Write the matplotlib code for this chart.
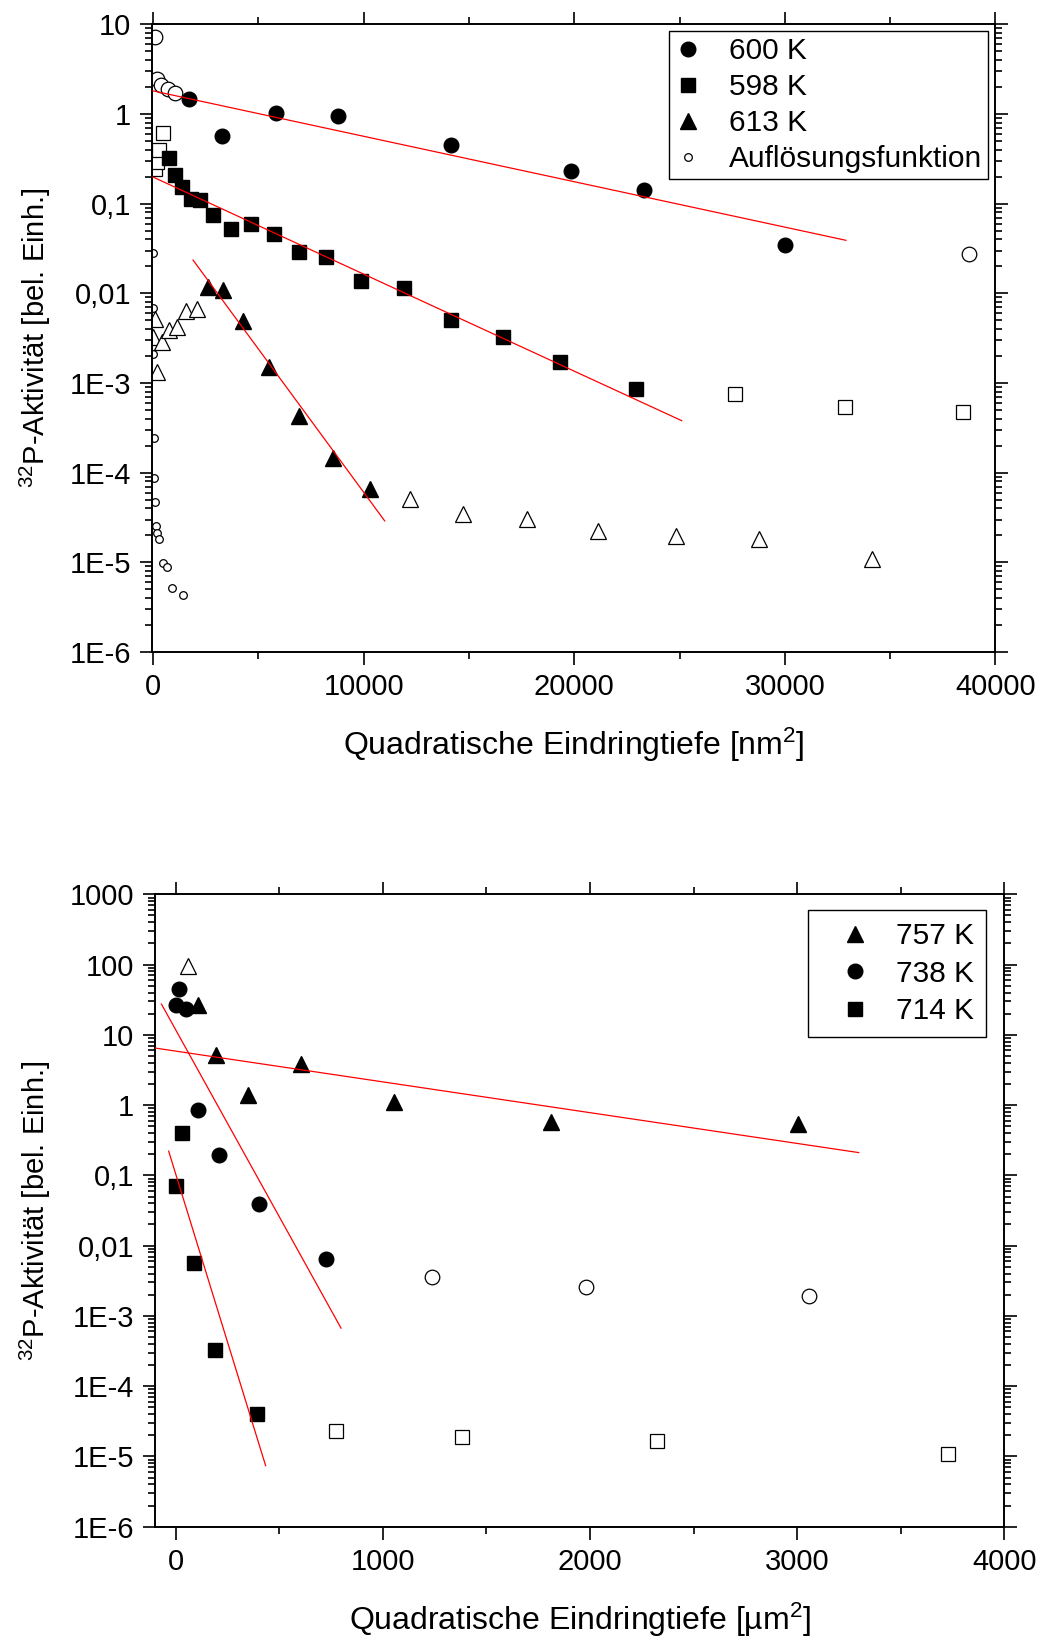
import matplotlib
matplotlib.use("Agg")
import matplotlib.pyplot as plt
from matplotlib.ticker import FixedLocator, FixedFormatter, LogLocator, NullFormatter, MultipleLocator

plt.rcParams['font.family'] = ['Liberation Sans', 'DejaVu Sans']
plt.rcParams['mathtext.fontset'] = 'custom'
plt.rcParams['mathtext.rm'] = 'Liberation Sans'
plt.rcParams['mathtext.it'] = 'Liberation Sans'
plt.rcParams['mathtext.bf'] = 'Liberation Sans'

# ---------------- top panel data (x in nm^2) ----------------
x600 = [1710, 3297, 5826, 8800, 14155, 19856, 23327, 30020]
y600 = [1.46, 0.57, 1.03, 0.95, 0.45, 0.23, 0.142, 0.0343]
x600_open = [95, 175, 380, 697, 1045, 38745]
y600_open = [7.27, 2.43, 2.1, 1.90, 1.70, 0.0277]

x598 = [760, 1045, 1393, 1804, 2232, 2849, 3704, 4653, 5730, 6918, 8199, 9862,
        11924, 14155, 16634, 19311, 22930]
y598 = [0.325, 0.208, 0.154, 0.112, 0.109, 0.0745, 0.0515, 0.0586, 0.0457, 0.0288,
        0.0253, 0.01377, 0.0114, 0.00498, 0.00324, 0.0017, 0.00085]
x598_open = [95, 175, 300, 490, 27640, 32846, 38448]
y598_open = [0.243, 0.293, 0.395, 0.62, 7.6e-4, 5.37e-4, 4.7e-4]

x613 = [2627, 3324, 4259, 5508, 6933, 8533, 10304]
y613 = [0.01178, 0.011, 0.00489, 0.00151, 4.33e-4, 1.47e-4, 6.6e-5]
x613_open = [15, 95, 175, 413, 774, 1125, 1567, 2075,
             12221, 14700, 17775, 21146, 24815, 28781, 34135]
y613_open = [0.00326, 0.00523, 0.00133, 0.00287, 0.00389, 0.00422, 0.0063, 0.00676,
             5.05e-5, 3.47e-5, 3.05e-5, 2.21e-5, 1.99e-5, 1.84e-5, 1.10e-5]

x_res = [15, 15, 15, 47, 47, 95, 128, 176, 285, 460, 679, 888, 1439]
y_res = [0.0278, 0.00687, 0.00209, 2.46e-4, 8.8e-5, 4.7e-5, 2.52e-5, 2.12e-5,
         1.83e-5, 9.8e-6, 8.8e-6, 5.2e-6, 4.27e-6]

fit600_x = [0, 32900]
fit600_y = [1.81, 0.039]
fit598_x = [0, 25100]
fit598_y = [0.198, 3.8e-4]
fit613_x = [1900, 11000]
fit613_y = [0.0235, 2.9e-5]

top_labels = ['600 K', '598 K', '613 K', 'Auflösungsfunktion']
top_yticks = [1e-6, 1e-5, 1e-4, 1e-3, 1e-2, 1e-1, 1, 10]
top_yticklabels = ['1E-6', '1E-5', '1E-4', '1E-3', '0,01', '0,1', '1', '10']
top_xticks = [0, 10000, 20000, 30000, 40000]
top_xticklabels = ['0', '10000', '20000', '30000', '40000']

# ---------------- bottom panel data (x in um^2) ----------------
x757 = [108, 194, 347, 605, 1055, 1811, 3004]
y757 = [26.2, 5.1, 1.41, 3.85, 1.11, 0.571, 0.533]
x757_open = [60]
y757_open = [95.9]

x738 = [15, 3, 52, 108, 210, 401, 724]
y738 = [45.2, 26.8, 23.5, 0.843, 0.192, 0.0386, 0.00653]
x738_open = [1237, 1983, 3059]
y738_open = [0.00363, 0.00256, 0.00195]

x714 = [31, 3, 87, 189, 393]
y714 = [0.403, 0.0703, 0.00561, 3.26e-4, 4.02e-5]
x714_open = [774, 1384, 2324, 3729]
y714_open = [2.28e-5, 1.89e-5, 1.66e-5, 1.1e-5]

fit757_x = [-100, 3297]
fit757_y = [6.49, 0.211]
fit738_x = [-69, 798]
fit738_y = [27.4, 6.7e-4]
fit714_x = [-34, 434]
fit714_y = [0.221, 7.4e-6]

bot_labels = ['757 K', '738 K', '714 K']
bot_yticks = [1e-6, 1e-5, 1e-4, 1e-3, 1e-2, 1e-1, 1, 10, 100, 1000]
bot_yticklabels = ['1E-6', '1E-5', '1E-4', '1E-3', '0,01', '0,1', '1', '10', '100', '1000']
bot_xticks = [0, 1000, 2000, 3000, 4000]
bot_xticklabels = ['0', '1000', '2000', '3000', '4000']

FS_TICK = 21
FS_LEG = 21.5
FS_XL = 23
FS_YL = 21
MS = 10.5
fig = plt.figure(figsize=(10.4, 16.38), dpi=100)
ax1 = fig.add_axes([0.1459, 0.60195, 0.8113, 0.38322])
ax2 = fig.add_axes([0.14904, 0.06795, 0.81663, 0.38608])


def style(ax, xt, xtl, yt, ytl, xminor):
    ax.set_yscale('log')
    ax.xaxis.set_major_locator(FixedLocator(xt))
    ax.xaxis.set_major_formatter(FixedFormatter(xtl))
    ax.xaxis.set_minor_locator(MultipleLocator(xminor))
    ax.yaxis.set_major_locator(FixedLocator(yt))
    ax.yaxis.set_major_formatter(FixedFormatter(ytl))
    ax.yaxis.set_minor_locator(LogLocator(base=10, subs=range(2, 10), numticks=50))
    ax.yaxis.set_minor_formatter(NullFormatter())
    ax.tick_params(which='both', direction='out', top=True, right=True, width=1.2,
                   labelsize=FS_TICK, colors='black')
    ax.tick_params(which='major', length=9, pad=6)
    ax.tick_params(which='minor', length=5)
    for s in ax.spines.values():
        s.set_linewidth(1.4)


def fill(ax, x, y, m, ms=MS, label=None):
    return ax.plot(x, y, ls='none', marker=m, ms=ms, mfc='black', mec='black', label=label)[0]


def hollow(ax, x, y, m, ms=MS, label=None):
    return ax.plot(x, y, ls='none', marker=m, ms=ms, mfc='white', mec='black', mew=0.9,
                   label=label)[0]

# ---- top ----
ax1.plot(fit600_x, fit600_y, color='red', lw=0.9, zorder=3)
ax1.plot(fit598_x, fit598_y, color='red', lw=0.9, zorder=3)
ax1.plot(fit613_x, fit613_y, color='red', lw=0.9, zorder=3)
hollow(ax1, x600_open, y600_open, 'o')
hollow(ax1, x598_open, y598_open, 's', ms=9.5)
hollow(ax1, x613_open, y613_open, '^', ms=11.5)
h1 = fill(ax1, x600, y600, 'o', label=top_labels[0])
h2 = fill(ax1, x598, y598, 's', ms=9.5, label=top_labels[1])
h3 = fill(ax1, x613, y613, '^', ms=11.5, label=top_labels[2])
h4 = hollow(ax1, x_res, y_res, 'o', ms=5.5, label=top_labels[3])
ax1.set_xlim(-60, 40000)
ax1.set_ylim(1e-6, 10)
style(ax1, top_xticks, top_xticklabels, top_yticks, top_yticklabels, 5000)
ax1.set_xlabel('Quadratische Eindringtiefe [nm$^{2}$]', fontsize=FS_XL, labelpad=18)
ax1.set_ylabel('$^{32}$P-Aktivität [bel. Einh.]', fontsize=FS_YL, labelpad=12)
leg1 = ax1.legend(handles=[h1, h2, h3, h4], loc='upper right', bbox_to_anchor=(0.991, 0.989),
                  borderaxespad=0, fontsize=FS_LEG, frameon=True, fancybox=False, framealpha=1,
                  edgecolor='black', numpoints=1, handlelength=0.9, handletextpad=0.9,
                  labelspacing=0.27, borderpad=0.2)
leg1.get_frame().set_linewidth(1.0)

# ---- bottom ----
ax2.plot(fit757_x, fit757_y, color='red', lw=0.9, zorder=3)
ax2.plot(fit738_x, fit738_y, color='red', lw=0.9, zorder=3)
ax2.plot(fit714_x, fit714_y, color='red', lw=0.9, zorder=3)
hollow(ax2, x757_open, y757_open, '^', ms=11.5)
hollow(ax2, x738_open, y738_open, 'o')
hollow(ax2, x714_open, y714_open, 's', ms=9.5)
g1 = fill(ax2, x757, y757, '^', ms=11.5, label=bot_labels[0])
g2 = fill(ax2, x738, y738, 'o', label=bot_labels[1])
g3 = fill(ax2, x714, y714, 's', ms=9.5, label=bot_labels[2])
ax2.set_xlim(-100, 4000)
ax2.set_ylim(1e-6, 1000)
style(ax2, bot_xticks, bot_xticklabels, bot_yticks, bot_yticklabels, 500)
ax2.set_xlabel('Quadratische Eindringtiefe [µm$^{2}$]', fontsize=FS_XL, labelpad=18)
ax2.set_ylabel('$^{32}$P-Aktivität [bel. Einh.]', fontsize=FS_YL, labelpad=12)
leg2 = ax2.legend(handles=[g1, g2, g3], loc='upper right', bbox_to_anchor=(0.978, 0.975),
                  borderaxespad=0, fontsize=FS_LEG, frameon=True, fancybox=False, framealpha=1,
                  edgecolor='black', numpoints=1, handlelength=2.34, handletextpad=0.2,
                  labelspacing=0.32, borderpad=0.4)
leg2.get_frame().set_linewidth(1.0)

fig.savefig('out.png', dpi=100)
